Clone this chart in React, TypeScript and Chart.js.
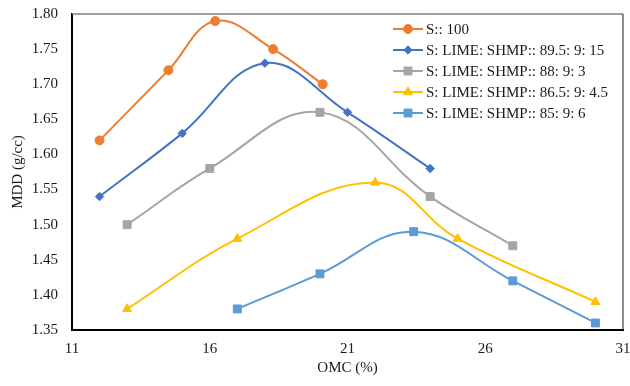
import React, { useEffect, useRef } from "react";
import { Chart, registerables } from "chart.js";
import { drawPoint } from "chart.js/helpers";

Chart.register(...registerables);

const seriesLabels = [
  "S:: 100",
  "S: LIME: SHMP:: 89.5: 9: 15",
  "S: LIME: SHMP:: 88: 9: 3",
  "S: LIME: SHMP:: 86.5: 9: 4.5",
  "S: LIME: SHMP:: 85: 9: 6",
];
const omcS100 = [12, 14.5, 16.2, 18.3, 20.1];
const mddS100 = [1.62, 1.72, 1.79, 1.75, 1.7];
const omcMix1 = [12, 15, 18, 21, 24];
const mddMix1 = [1.54, 1.63, 1.73, 1.66, 1.58];
const omcMix2 = [13, 16, 20, 24, 27];
const mddMix2 = [1.5, 1.58, 1.66, 1.54, 1.47];
const omcMix3 = [13, 17, 22, 25, 30];
const mddMix3 = [1.38, 1.48, 1.56, 1.48, 1.39];
const omcMix4 = [17, 20, 23.4, 27, 30];
const mddMix4 = [1.38, 1.43, 1.49, 1.42, 1.36];

const xTicks = [11, 16, 21, 26, 31];
const yTicks = [1.35, 1.4, 1.45, 1.5, 1.55, 1.6, 1.65, 1.7, 1.75, 1.8];

const colors = ["#ED7D31", "#4472C4", "#A5A5A5", "#FFC000", "#5B9BD5"];
const markers = ["circle", "rectRot", "rect", "triangle", "rect"];
const markerRadius = [4.5, 4.2, 5.6, 5.2, 5.6];

const FONT = "'Liberation Serif', 'Times New Roman', serif";

const xs = [omcS100, omcMix1, omcMix2, omcMix3, omcMix4];
const ys = [mddS100, mddMix1, mddMix2, mddMix3, mddMix4];

const framePlugin = {
  id: "frame",
  beforeDatasetsDraw(chart: any) {
    const { ctx, chartArea: a } = chart;
    ctx.save();
    ctx.strokeStyle = "#7F7F7F";
    ctx.lineWidth = 1.5;
    ctx.beginPath();
    ctx.moveTo(a.left, a.top);
    ctx.lineTo(a.right, a.top);
    ctx.stroke();
    ctx.strokeStyle = "#404040";
    ctx.lineWidth = 1.2;
    ctx.beginPath();
    ctx.moveTo(a.right, a.top);
    ctx.lineTo(a.right, a.bottom);
    ctx.stroke();
    ctx.restore();
  },
};

const legendPlugin = {
  id: "customLegend",
  afterDraw(chart: any) {
    const { ctx } = chart;
    ctx.save();
    const x0 = 393;
    const x1 = 423;
    const tx = 426;
    chart.data.datasets.forEach((ds: any, i: number) => {
      const y = 29 + i * 21;
      ctx.strokeStyle = ds.borderColor;
      ctx.lineWidth = 2;
      ctx.beginPath();
      ctx.moveTo(x0, y);
      ctx.lineTo(x1, y);
      ctx.stroke();
      ctx.fillStyle = ds.pointBackgroundColor;
      ctx.strokeStyle = ds.pointBorderColor;
      ctx.lineWidth = 1;
      drawPoint(ctx, { pointStyle: ds.pointStyle, radius: ds.pointRadius, rotation: 0, borderWidth: 1 }, (x0 + x1) / 2, y);
      ctx.fillStyle = "#1a1a1a";
      ctx.font = `15px ${FONT}`;
      ctx.textBaseline = "middle";
      ctx.textAlign = "left";
      ctx.fillText(ds.label, tx, y + 1);
    });
    ctx.restore();
  },
};

const zeroPad = (s: any) => {
  s.paddingTop = 0;
  s.paddingBottom = 0;
  s.paddingLeft = 0;
  s.paddingRight = 0;
};

export default function App() {
  const ref = useRef<HTMLCanvasElement | null>(null);
  useEffect(() => {
    if (!ref.current) return;
    const datasets = seriesLabels.map((label, i) => ({
      label,
      data: xs[i].map((x, j) => ({ x, y: ys[i][j] })),
      borderColor: colors[i],
      backgroundColor: colors[i],
      pointBackgroundColor: colors[i],
      pointBorderColor: colors[i],
      pointStyle: markers[i],
      pointRadius: markerRadius[i],
      pointBorderWidth: 1,
      borderWidth: 2,
      tension: 0.4,
      fill: false,
    }));
    const chart = new Chart(ref.current, {
      type: "line",
      data: { datasets },
      plugins: [framePlugin, legendPlugin],
      options: {
        animation: false,
        responsive: false,
        maintainAspectRatio: false,
        devicePixelRatio: 1,
        layout: { padding: { left: 0, right: 7, top: 14, bottom: 0 } },
        plugins: { legend: { display: false }, tooltip: { enabled: false } },
        scales: {
          x: {
            type: "linear",
            min: 11,
            max: 31,
            afterFit: (s: any) => {
              s.height = 56;
              zeroPad(s);
            },
            afterBuildTicks: (s: any) => {
              s.ticks = xTicks.map((v) => ({ value: v }));
            },
            grid: { display: false, drawTicks: false },
            border: { display: true, color: "#000", width: 2 },
            ticks: {
              padding: 10,
              color: "#1a1a1a",
              font: { family: FONT, size: 15 },
              callback: (v: any) => String(v),
            },
            title: {
              display: true,
              text: "OMC (%)",
              color: "#1a1a1a",
              font: { family: FONT, size: 15 },
              padding: { top: 0, bottom: 9 },
            },
          },
          y: {
            type: "linear",
            min: 1.35,
            max: 1.8,
            afterFit: (s: any) => {
              s.width = 72;
              zeroPad(s);
            },
            afterBuildTicks: (s: any) => {
              s.ticks = yTicks.map((v) => ({ value: v }));
            },
            grid: { display: false, drawTicks: false },
            border: { display: true, color: "#000", width: 2 },
            ticks: {
              padding: 14,
              color: "#1a1a1a",
              font: { family: FONT, size: 15 },
              callback: (v: any) => Number(v).toFixed(2),
            },
            title: {
              display: true,
              text: "MDD (g/cc)",
              color: "#1a1a1a",
              font: { family: FONT, size: 15 },
              padding: { top: 9, bottom: 0 },
            },
          },
        },
      },
    } as any);
    return () => chart.destroy();
  }, []);
  return (
    <div style={{ position: "fixed", left: 0, top: 0, width: 630, height: 386, background: "#fff" }}>
      <canvas ref={ref} width={630} height={386} style={{ width: 630, height: 386, display: "block" }} />
    </div>
  );
}
